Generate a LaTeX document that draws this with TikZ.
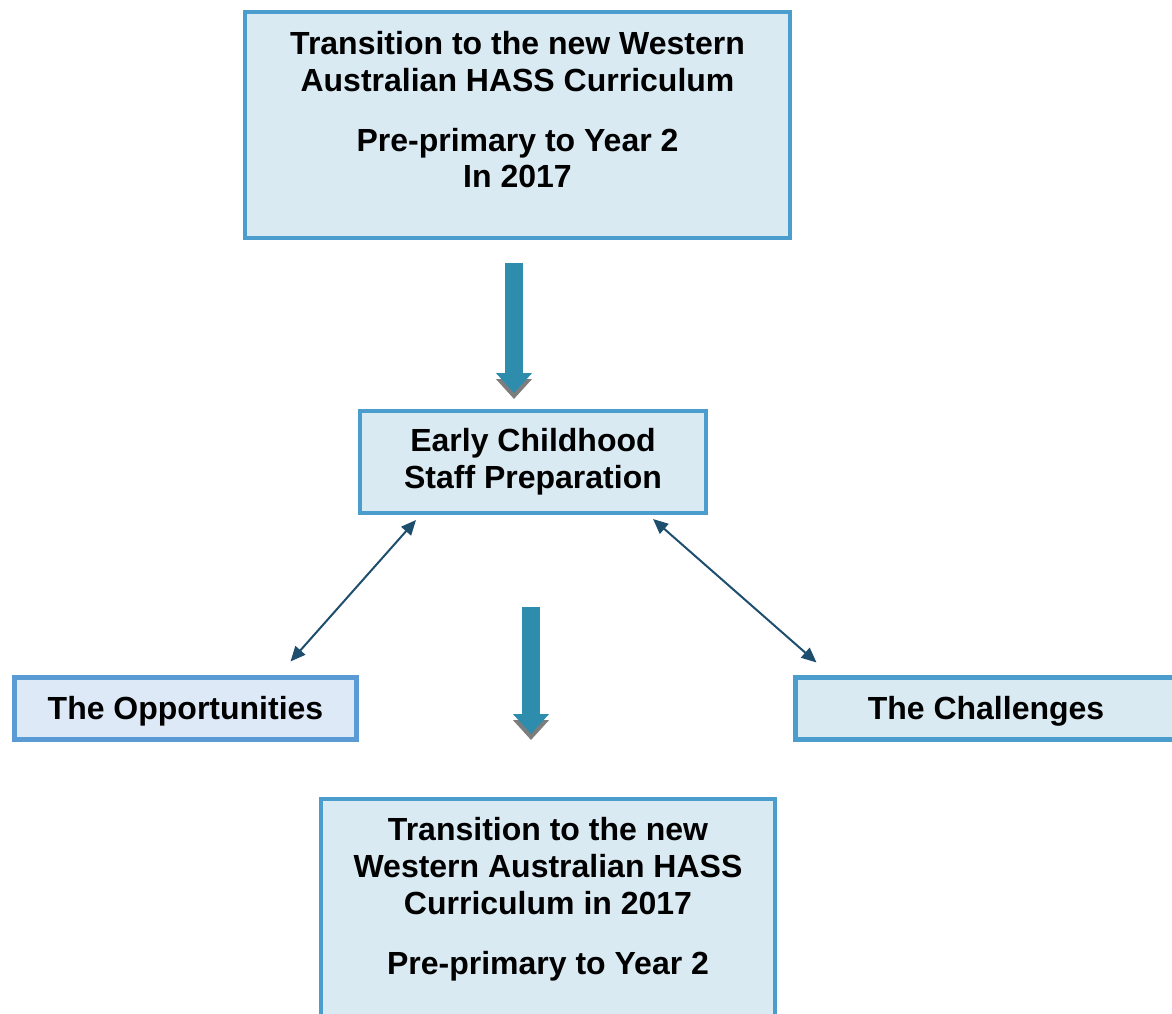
\documentclass[tikz,border=0pt]{standalone}
\usepackage{fontspec}
\setmainfont{Liberation Sans}
\usetikzlibrary{arrows.meta, positioning}
\definecolor{boxblue}{RGB}{75,157,206}
\definecolor{boxfill}{RGB}{218,234,243}
\definecolor{sideblue}{RGB}{91,155,213}
\definecolor{sidefill}{RGB}{221,233,246}
\definecolor{tealarrow}{RGB}{46,141,173}
\definecolor{shadowgray}{RGB}{125,125,125}
\definecolor{linkblue}{RGB}{30,78,110}

\begin{document}
\begin{tikzpicture}[x=0.5pt, y=-0.5pt,
    box/.style={draw=boxblue, fill=boxfill, line width=2pt, align=center, inner sep=0pt,
        font=\bfseries\fontsize{16}{18.4}\selectfont},
    sidebox/.style={box, draw=sideblue, fill=sidefill, line width=2.5pt},
    link/.style={linkblue, line width=1pt,
        {Triangle[length=7.5pt,width=6.5pt]}-{Triangle[length=7.5pt,width=6.5pt]}},
    bigarrow/.style={line width=9pt, -{Triangle[length=10pt,width=17.5pt]}}]
    \useasboundingbox (0,0) rectangle (1172,1013);
    \clip (0,0) rectangle (1172,1013);

    % Boxes
    \node[box, minimum width=272.5pt, minimum height=113pt] (top) at (517.5,125)
        {Transition to the new Western\\Australian HASS Curriculum\\[11.5pt]Pre-primary to Year 2\\In 2017\\[-3pt]\mbox{}};
    \node[box, minimum width=173pt, minimum height=51pt] (prep) at (533,462)
        {Early Childhood\\Staff Preparation};
    \node[sidebox, text depth=1pt, minimum width=171pt, minimum height=31pt] (opp) at (185.5,708.5) {The Opportunities};
    \node[box, text depth=1pt, line width=2.5pt, minimum width=190.5pt, minimum height=31pt] (chal) at (986,708.5) {The Challenges};
    \node[box, minimum width=227pt, minimum height=122pt] (bottom) at (548,921)
        {Transition to the new\\Western Australian HASS\\Curriculum in 2017\\[12pt]Pre-primary to Year 2\\[6.5pt]\mbox{}};

    % Big arrows with shadow
    \coordinate (a1s) at ([xshift=-1.75pt,yshift=-11.5pt]top.south);
    \coordinate (a1e) at ([xshift=-9.5pt,yshift=8pt]prep.north);
    \coordinate (a2s) at ([xshift=-1pt,yshift=-46pt]prep.south);
    \coordinate (a2e) at ([xshift=-8.5pt,yshift=31.5pt]bottom.north);
    \draw[bigarrow, shadowgray] ([yshift=-3pt]a1s) -- ([yshift=-3pt]a1e);
    \draw[bigarrow, tealarrow] (a1s) -- (a1e);
    \draw[bigarrow, shadowgray] ([yshift=-3pt]a2s) -- ([yshift=-3pt]a2e);
    \draw[bigarrow, tealarrow] (a2s) -- (a2e);

    % Links
    \draw[link] ([xshift=29pt,yshift=-2.5pt]prep.south west) -- ([xshift=-34.25pt,yshift=6.75pt]opp.north east);
    \draw[link] ([xshift=-27.5pt,yshift=-2pt]prep.south east) -- ([xshift=11.75pt,yshift=6.25pt]chal.north west);
\end{tikzpicture}
\end{document}
